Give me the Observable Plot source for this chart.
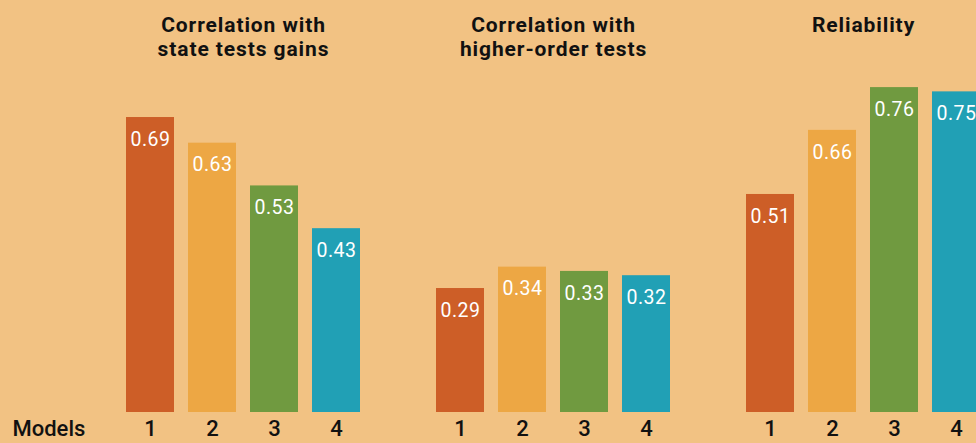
<!DOCTYPE html>
<html><head><meta charset="utf-8">
<script src="https://cdn.jsdelivr.net/npm/d3@7"></script>
<script src="https://cdn.jsdelivr.net/npm/@observablehq/plot@0.6"></script>
<style>
html,body{margin:0;padding:0;overflow:hidden;background:#F2C283;width:976px;height:443px}
#chart svg{display:block;max-width:none}
.ttl text{letter-spacing:0.9px}
.val text{letter-spacing:0.5px}
</style></head><body><div id="chart"></div>
<script>
const panels = ["Correlation with\nstate tests gains", "Correlation with\nhigher-order tests", "Reliability"];
const models = ["1", "2", "3", "4"];
const stateGains = [0.69, 0.63, 0.53, 0.43];
const higherOrder = [0.29, 0.34, 0.33, 0.32];
const reliability = [0.51, 0.66, 0.76, 0.75];
const colors = ["#CD5E27", "#EDA744", "#709A40", "#21A0B5"];
const axisLabel = "Models";

const series = [stateGains, higherOrder, reliability];
const data = panels.flatMap((p, i) => models.map((m, j) => ({panel: p, model: m, value: series[i][j]})));
const fmt = d3.format(".2f");

const chart = Plot.plot({
  width: 1018, height: 443,
  marginLeft: 88, marginRight: 0, marginTop: 70, marginBottom: 31,
  style: {background: "transparent", fontFamily: "Roboto, sans-serif", overflow: "visible"},
  fx: {domain: panels, padding: 0, axis: null},
  x: {domain: models, paddingInner: 0.226, paddingOuter: 0.613, axis: null},
  y: {domain: [0, 0.8], axis: null},
  color: {domain: models, range: colors},
  marks: [
    Plot.barY(data, {fx: "panel", x: "model", y: "value", fill: "model"}),
    Plot.text(data, {fx: "panel", x: "model", y: "value", text: d => fmt(d.value), dy: 22, fill: "white", fontSize: 19.5, className: "val"}),
    Plot.text(panels, {fx: d => d, text: d => d, frameAnchor: "top", dy: -56, lineAnchor: "top", lineHeight: 1.15, fontWeight: "bold", fontSize: 21, fill: "#111", className: "ttl"}),
    Plot.axisX({tickSize: 0, tickPadding: 8, fontSize: 22, fontWeight: 500, fill: "#111", label: null}),
    Plot.text([{panel: panels[0], t: axisLabel}], {fx: "panel", text: "t", frameAnchor: "bottom-left", dx: -76, dy: 8, lineAnchor: "top", textAnchor: "start", fontSize: 22, fontWeight: 500, fill: "#111"})
  ]
});
document.getElementById("chart").appendChild(chart);
</script></body></html>
